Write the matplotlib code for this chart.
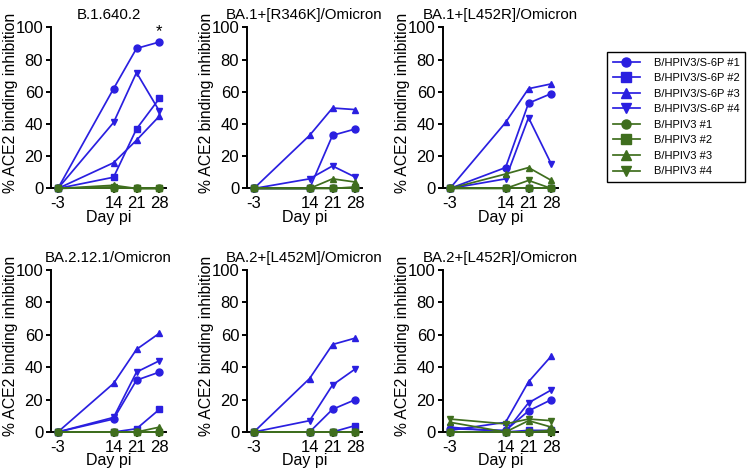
import matplotlib
matplotlib.use('Agg')
import matplotlib.pyplot as plt

plt.rcParams['font.family'] = ['Liberation Sans', 'DejaVu Sans']
plt.rcParams['axes.unicode_minus'] = False

days = [-3, 14, 21, 28]
series_labels = ['B/HPIV3/S-6P #1', 'B/HPIV3/S-6P #2', 'B/HPIV3/S-6P #3', 'B/HPIV3/S-6P #4',
                 'B/HPIV3 #1', 'B/HPIV3 #2', 'B/HPIV3 #3', 'B/HPIV3 #4']
panel_titles = ['B.1.640.2', 'BA.1+[R346K]/Omicron', 'BA.1+[L452R]/Omicron',
                'BA.2.12.1/Omicron', 'BA.2+[L452M]/Omicron', 'BA.2+[L452R]/Omicron']

# rows: S-6P #1..#4, B/HPIV3 #1..#4 ; columns: days
b1640_vals = [[0, 62, 87, 91], [0, 7, 37, 56], [0, 16, 30, 45], [0, 41, 72, 48],
              [0, 0, 0, 0], [0, 0, 0, 0], [0, 2, 0, 0], [0, 1, 0, 0]]
ba1_r346k_vals = [[0, 0, 33, 37], [0, 0, 0, 0], [0, 33, 50, 49], [0, 6, 14, 7],
                  [0, 0, 0, 0], [0, 0, 0, 0], [0, 0, 6, 4], [0, 0, 0, 1]]
ba1_l452r_vals = [[0, 13, 53, 59], [0, 0, 0, 0], [0, 41, 62, 65], [0, 6, 44, 15],
                  [0, 0, 0, 0], [0, 0, 0, 0], [0, 9, 13, 5], [0, 0, 5, 0]]
ba2121_vals = [[0, 8, 32, 37], [0, 0, 2, 14], [0, 30, 51, 61], [0, 9, 37, 44],
               [0, 0, 0, 0], [0, 0, 0, 0], [0, 0, 0, 3], [0, 0, 0, 0]]
ba2_l452m_vals = [[0, 0, 14, 20], [0, 0, 0, 4], [0, 33, 54, 58], [0, 7, 29, 39],
                  [0, 0, 0, 0], [0, 0, 0, 0], [0, 0, 0, 0], [0, 0, 0, 0]]
ba2_l452r_vals = [[2, 1, 13, 20], [0, 0, 1, 1], [1, 6, 31, 47], [3, 0, 18, 26],
                  [0, 0, 0, 1], [0, 0, 0, 0], [6, 0, 7, 3], [8, 5, 8, 7]]
panel_data = [b1640_vals, ba1_r346k_vals, ba1_l452r_vals,
              ba2121_vals, ba2_l452m_vals, ba2_l452r_vals]

blue = '#2A1FE0'
green = '#3F6E1E'
colors = [blue] * 4 + [green] * 4
markers = ['o', 's', '^', 'v'] * 2

W, H = 747, 476
fig = plt.figure(figsize=(W / 100, H / 100), dpi=100)

lefts = [51, 247, 443]
row_spec = [(27.5, 188.5), (270, 432)]  # (top px, zero px)
axw = 115

handles = None
for p in range(6):
    r, c = divmod(p, 3)
    top, zero = row_spec[r]
    ax = fig.add_axes([lefts[c] / W, 1 - zero / H, axw / W, (zero - top) / H])
    hs = []
    for i, vals in enumerate(panel_data[p]):
        h, = ax.plot(days, vals, color=colors[i], marker=markers[i], lw=1.25,
                     ms=5, clip_on=False, zorder=3, label=series_labels[i])
        hs.append(h)
    if handles is None:
        handles = hs
    ax.set_xlim(-5.1, 30)
    ax.set_ylim(0, 100)
    for s in ['top', 'right']:
        ax.spines[s].set_visible(False)
    for s in ['left', 'bottom']:
        ax.spines[s].set_linewidth(1.4)
    ax.set_xticks(days)
    ax.set_yticks(range(0, 101, 20))
    ax.tick_params(direction='out', length=3.6, width=1.4, labelsize=12, pad=2)
    ax.set_title(panel_titles[p], fontsize=10.8, pad=6)
    ax.set_xlabel('Day pi', fontsize=11.5, labelpad=-1)
    ax.set_ylabel('% ACE2 binding inhibition', fontsize=11.3)
    ax.yaxis.set_label_coords((18 - 51) / axw, 0.53)
    if p == 0:
        ax.text(28, 93, '*', ha='center', va='bottom', fontsize=12)

leg = fig.legend(handles, series_labels, loc='upper left',
                 bbox_to_anchor=(607 / W, 1 - 52 / H), frameon=True, fancybox=False,
                 edgecolor='black', framealpha=1, fontsize=8, markerscale=1.3,
                 handlelength=2.5, handletextpad=1.2, labelspacing=0.5,
                 borderpad=0.5, borderaxespad=0)
leg.get_frame().set_linewidth(1.0)

fig.savefig('out.png', dpi=100)
